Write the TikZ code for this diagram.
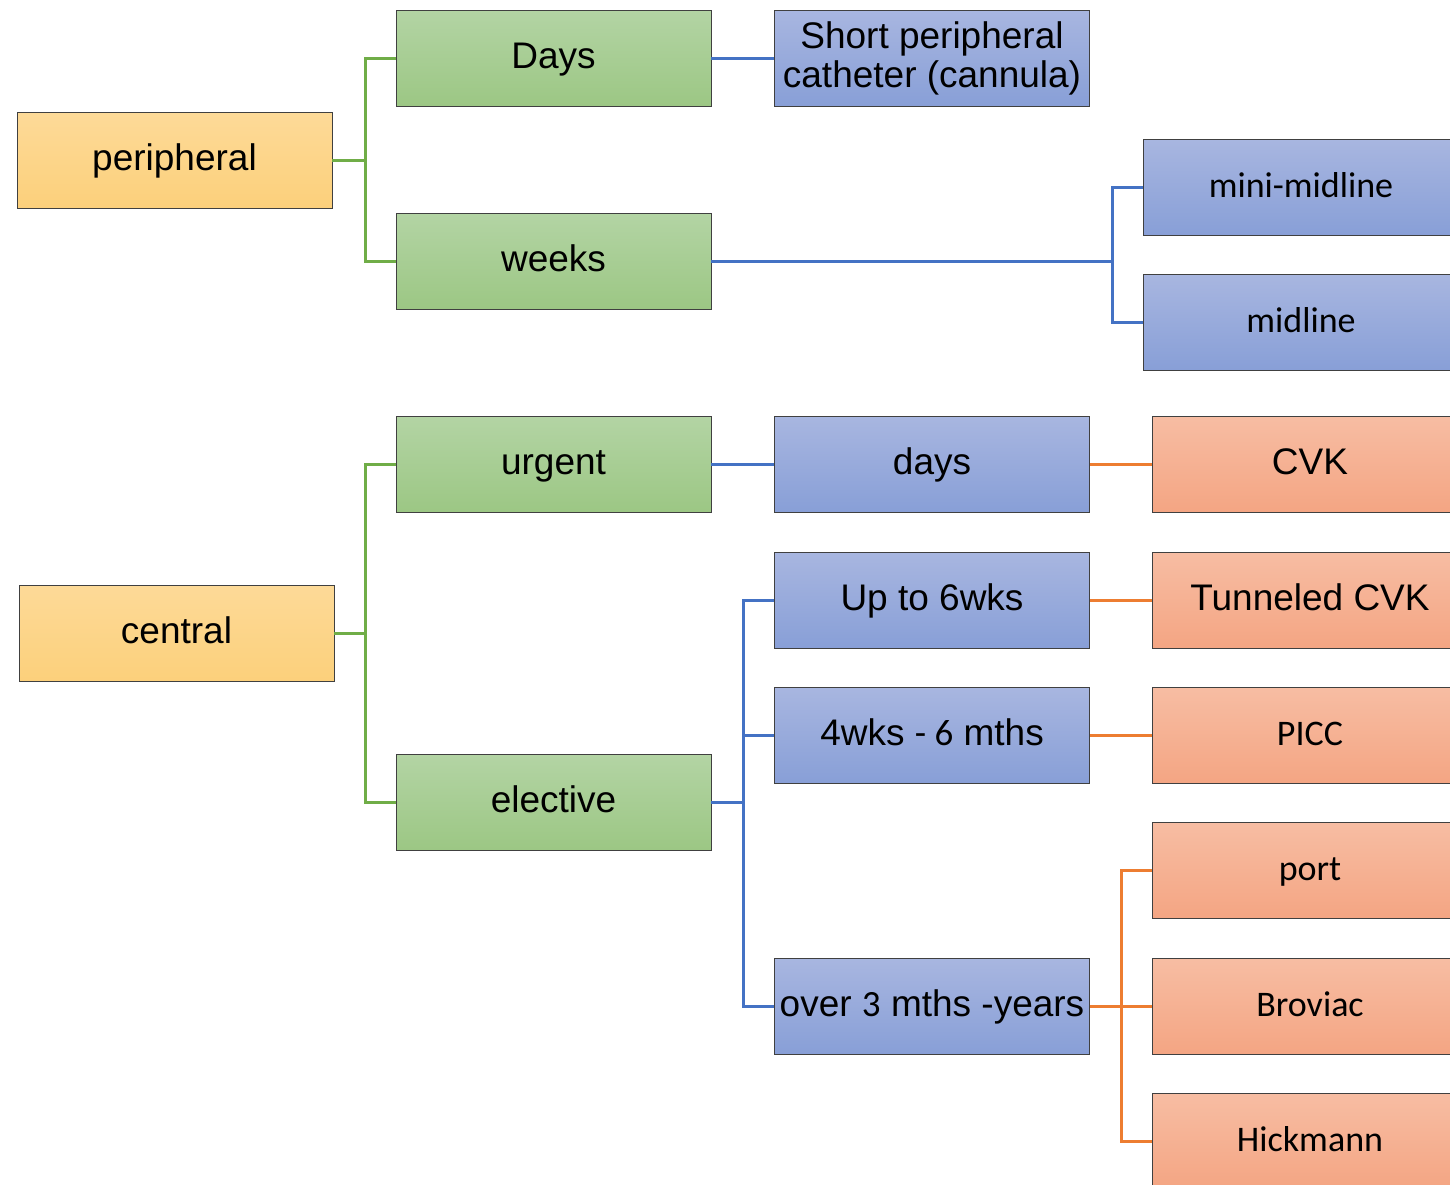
\documentclass[tikz,border=0pt]{standalone}
\usepackage{fontspec}
\setmainfont{Liberation Sans}
\newfontfamily\calib{Carlito}
\usepackage{xcolor}
\usetikzlibrary{positioning,calc}

\definecolor{rootTop}{HTML}{FDDA98}
\definecolor{rootBot}{HTML}{FCD07B}
\definecolor{grnTop}{HTML}{B3D4A4}
\definecolor{grnBot}{HTML}{9CC784}
\definecolor{bluTop}{HTML}{A8B6E0}
\definecolor{bluBot}{HTML}{889FD7}
\definecolor{salTop}{HTML}{F7BDA3}
\definecolor{salBot}{HTML}{F4A583}
\definecolor{grnLine}{HTML}{70AD47}
\definecolor{bluLine}{HTML}{4472C4}
\definecolor{orgLine}{HTML}{ED7D31}

\tikzset{
  box/.style={draw=black!75,line width=0.9pt,minimum width=315pt,minimum height=96pt,
    inner sep=2pt,align=center,text height=28pt,text depth=7pt,
    font=\fontsize{37}{39}\selectfont},
  rootbox/.style={box,top color=rootTop,bottom color=rootBot},
  timebox/.style={box,top color=grnTop,bottom color=grnBot},
  durbox/.style={box,top color=bluTop,bottom color=bluBot},
  devbox/.style={box,top color=salTop,bottom color=salBot},
  calbox/.style={font=\calib\fontsize{36}{39}\selectfont},
  gline/.style={draw=grnLine,line width=3pt},
  bline/.style={draw=bluLine,line width=3pt},
  oline/.style={draw=orgLine,line width=3pt}
}

\begin{document}
\begin{tikzpicture}[x=1pt,y=-1pt]
  \useasboundingbox (0,0) rectangle (1450,1184);
  % first level
  \node[rootbox] (peri) at (174.5,160) {peripheral};
  \node[rootbox] (cent) at (176.5,633) {central};
  % time
  \node[timebox] (Days)  at (553.5,58)  {Days};
  \node[timebox] (weeks) at (553.5,261) {weeks};
  \node[timebox] (urg)   at (553.5,464) {urgent};
  \node[timebox] (elec)  at (553.5,802) {elective};
  % duration
  \node[durbox,text height=,text depth=] (spc) at (932,58) {Short peripheral\\catheter (cannula)};
  \node[durbox] (ddays) at (932,464)  {days};
  \node[durbox] (up6)   at (932,600)  {Up to 6wks};
  \node[durbox] (wk4)   at (932,735)  {4wks {\calib - 6} mths};
  \node[durbox] (over3) at (932,1006) {over {\calib 3} mths -years};
  % devices
  \node[durbox,calbox] (mini) at (1301,187) {mini-midline};
  \node[durbox,calbox] (mid)  at (1301,322) {midline};
  \node[devbox] (cvk)  at (1310,464) {CVK};
  \node[devbox] (tcvk) at (1310,600) {Tunneled CVK};
  \node[devbox,calbox] (picc) at (1310,735)  {PICC};
  \node[devbox,calbox] (port) at (1310,870)  {port};
  \node[devbox,calbox] (brov) at (1310,1006) {Broviac};
  \node[devbox,calbox] (hick) at (1310,1141) {Hickmann};

  % connectors
  \draw[gline] (peri.east) -- ++(33,0) |- (Days.west);
  \draw[gline] (peri.east) -- ++(33,0) |- (weeks.west);
  \draw[gline] (cent.east) -- ++(31,0) |- (urg.west);
  \draw[gline] (cent.east) -- ++(31,0) |- (elec.west);
  \draw[bline] (Days.east) -- (spc.west);
  \draw[bline] (weeks.east) -- ++(401,0) |- (mini.west);
  \draw[bline] (weeks.east) -- ++(401,0) |- (mid.west);
  \draw[bline] (urg.east) -- (ddays.west);
  \foreach \t in {up6,wk4,over3}
    \draw[bline] (elec.east) -- ++(32,0) |- (\t.west);
  \draw[oline] (ddays.east) -- (cvk.west);
  \draw[oline] (up6.east) -- (tcvk.west);
  \draw[oline] (wk4.east) -- (picc.west);
  \foreach \t in {port,brov,hick}
    \draw[oline] (over3.east) -- ++(32,0) |- (\t.west);
\end{tikzpicture}
\end{document}
